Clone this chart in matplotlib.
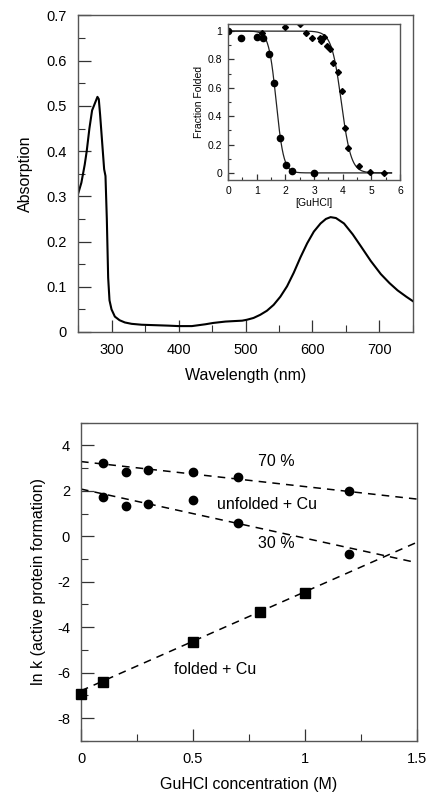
import numpy as np
import matplotlib
matplotlib.use("Agg")
import matplotlib.pyplot as plt
from matplotlib.ticker import MultipleLocator

plt.rcParams['font.family'] = ['Liberation Sans', 'DejaVu Sans']
plt.rcParams['axes.unicode_minus'] = False

# ---- Top panel: absorption spectrum ----
wavelength = [250, 255, 260, 263, 267, 271, 275, 279, 281, 283, 286, 289, 291, 293, 295,
              297, 300, 305, 312, 320, 330, 345, 365, 385, 400, 420, 440, 452, 470, 482,
              495, 502, 512, 522, 532, 542, 552, 562, 572, 582, 592, 602, 612, 620, 627,
              635, 647, 660, 672, 687, 702, 715, 727, 740, 750]
absorption = [0.305, 0.33, 0.37, 0.40, 0.45, 0.49, 0.505, 0.52, 0.515, 0.48, 0.42, 0.36,
              0.345, 0.25, 0.12, 0.07, 0.05, 0.034, 0.026, 0.021, 0.018, 0.016, 0.015, 0.014,
              0.013, 0.013, 0.017, 0.020, 0.023, 0.024, 0.025, 0.027, 0.031, 0.038, 0.047,
              0.060, 0.078, 0.101, 0.131, 0.165, 0.196, 0.222, 0.240, 0.250, 0.254, 0.252,
              0.240, 0.216, 0.190, 0.157, 0.128, 0.108, 0.092, 0.078, 0.068]

# ---- Inset: denaturation curves ----
circ_x = [0.0, 0.47, 1.02, 1.23, 1.44, 1.62, 1.82, 2.02, 2.23, 3.01]
circ_y = [1.0, 0.948, 0.96, 0.948, 0.84, 0.635, 0.247, 0.059, 0.014, 0.0]
diam_x = [1.17, 2.0, 2.5, 2.71, 2.92, 3.2, 3.24, 3.33, 3.45, 3.57, 3.66, 3.83, 3.99,
          4.07, 4.2, 4.56, 4.94, 5.45]
diam_y = [0.984, 1.026, 1.047, 0.984, 0.948, 0.953, 0.93, 0.96, 0.896, 0.873, 0.772,
          0.71, 0.58, 0.318, 0.179, 0.049, 0.007, 0.0]
# two-state fit parameters (midpoint, width)
circ_fit = (1.68, 0.13)
diam_fit = (3.95, 0.17)

# ---- Bottom panel: ln k vs GuHCl ----
gu70 = [0.1, 0.2, 0.3, 0.5, 0.7, 1.2]
lnk70 = [3.22, 2.85, 2.93, 2.83, 2.6, 2.0]
gu30 = [0.1, 0.2, 0.3, 0.5, 0.7, 1.2]
lnk30 = [1.71, 1.34, 1.41, 1.59, 0.59, -0.78]
gu_fold = [0.0, 0.1, 0.5, 0.8, 1.0]
lnk_fold = [-6.95, -6.41, -4.67, -3.35, -2.48]
# dashed fit lines: value at x=0 and x=1.5
line_x = [0.0, 1.5]
line70 = [3.29, 1.64]
line30 = [2.08, -1.16]
line_fold = [-6.8, -0.27]

fig = plt.figure(figsize=(4.27, 7.94), dpi=100)
spine_col = '#555555'

def style(ax, fs=10.5, pad=8, major=9, minor=5):
    for s in ax.spines.values():
        s.set_color(spine_col)
        s.set_linewidth(1.0)
    ax.tick_params(which='both', direction='in', top=False, right=False,
                   labelsize=fs, pad=pad, color='#333333')
    ax.tick_params(which='major', length=major, width=0.9)
    ax.tick_params(which='minor', length=minor, width=0.8)

# Top axes
ax1 = fig.add_axes([0.1827, 0.5819, 0.7845, 0.3986])
ax1.plot(wavelength, absorption, color='black', lw=1.5)
ax1.set_xlim(250, 750)
ax1.set_ylim(0, 0.7)
ax1.xaxis.set_minor_locator(MultipleLocator(50))
ax1.yaxis.set_minor_locator(MultipleLocator(0.05))
ax1.set_yticks([0, 0.1, 0.2, 0.3, 0.4, 0.5, 0.6, 0.7])
ax1.set_yticklabels(['0', '0.1', '0.2', '0.3', '0.4', '0.5', '0.6', '0.7'])
ax1.set_xticks([300, 400, 500, 600, 700])
style(ax1)
ax1.set_xlabel('Wavelength (nm)', fontsize=11.5, labelpad=8)
ax1.set_ylabel('Absorption', fontsize=11.5, labelpad=10)

# Inset
axi = fig.add_axes([0.534, 0.7733, 0.403, 0.1965])
xf = np.linspace(0, 5.7, 300)
for (m, w) in (circ_fit, diam_fit):
    axi.plot(xf, 1.0 / (1.0 + np.exp((xf - m) / w)), color='#222222', lw=0.9)
axi.plot(circ_x, circ_y, 'o', color='black', ms=4.5)
axi.plot(diam_x, diam_y, 'D', color='black', ms=3.0)
axi.set_xlim(0, 6)
axi.set_ylim(-0.05, 1.05)
axi.xaxis.set_major_locator(MultipleLocator(1))
axi.xaxis.set_minor_locator(MultipleLocator(0.5))
axi.set_yticks([0, 0.2, 0.4, 0.6, 0.8, 1.0])
axi.set_yticklabels(['0', '0.2', '0.4', '0.6', '0.8', '1'])
axi.yaxis.set_minor_locator(MultipleLocator(0.1))
style(axi, fs=7.5, pad=4, major=4, minor=2.5)
axi.set_xlabel('[GuHCl]', fontsize=7.5, labelpad=2)
axi.set_ylabel('Fraction Folded', fontsize=7.5, labelpad=3)

# Bottom axes
ax2 = fig.add_axes([0.1897, 0.0671, 0.786, 0.4005])
ax2.plot(line_x, line70, ls=(0, (5, 4)), color='black', lw=1.1)
ax2.plot(line_x, line30, ls=(0, (5, 4)), color='black', lw=1.1)
ax2.plot(line_x, line_fold, ls=(0, (5, 4)), color='black', lw=1.1)
ax2.plot(gu70, lnk70, 'o', color='black', ms=6, clip_on=False)
ax2.plot(gu30, lnk30, 'o', color='black', ms=6, clip_on=False)
ax2.plot(gu_fold, lnk_fold, 's', color='black', ms=6.5, clip_on=False, zorder=5)
ax2.set_xlim(0, 1.5)
ax2.set_ylim(-9, 5)
ax2.set_xticks([0, 0.5, 1, 1.5])
ax2.set_xticklabels(['0', '0.5', '1', '1.5'])
ax2.xaxis.set_minor_locator(MultipleLocator(0.25))
ax2.set_yticks([-8, -6, -4, -2, 0, 2, 4])
ax2.yaxis.set_minor_locator(MultipleLocator(1))
style(ax2)
ax2.set_xlabel('GuHCl concentration (M)', fontsize=11.5, labelpad=8)
ax2.set_ylabel('ln k (active protein formation)', fontsize=11.5, labelpad=8)
ax2.text(0.874, 3.3, '70 %', fontsize=11.5, ha='center', va='center')
ax2.text(0.83, 1.38, 'unfolded + Cu', fontsize=11.5, ha='center', va='center')
ax2.text(0.874, -0.31, '30 %', fontsize=11.5, ha='center', va='center')
ax2.text(0.6, -5.86, 'folded + Cu', fontsize=11.5, ha='center', va='center')

fig.savefig('out.png', dpi=100)
